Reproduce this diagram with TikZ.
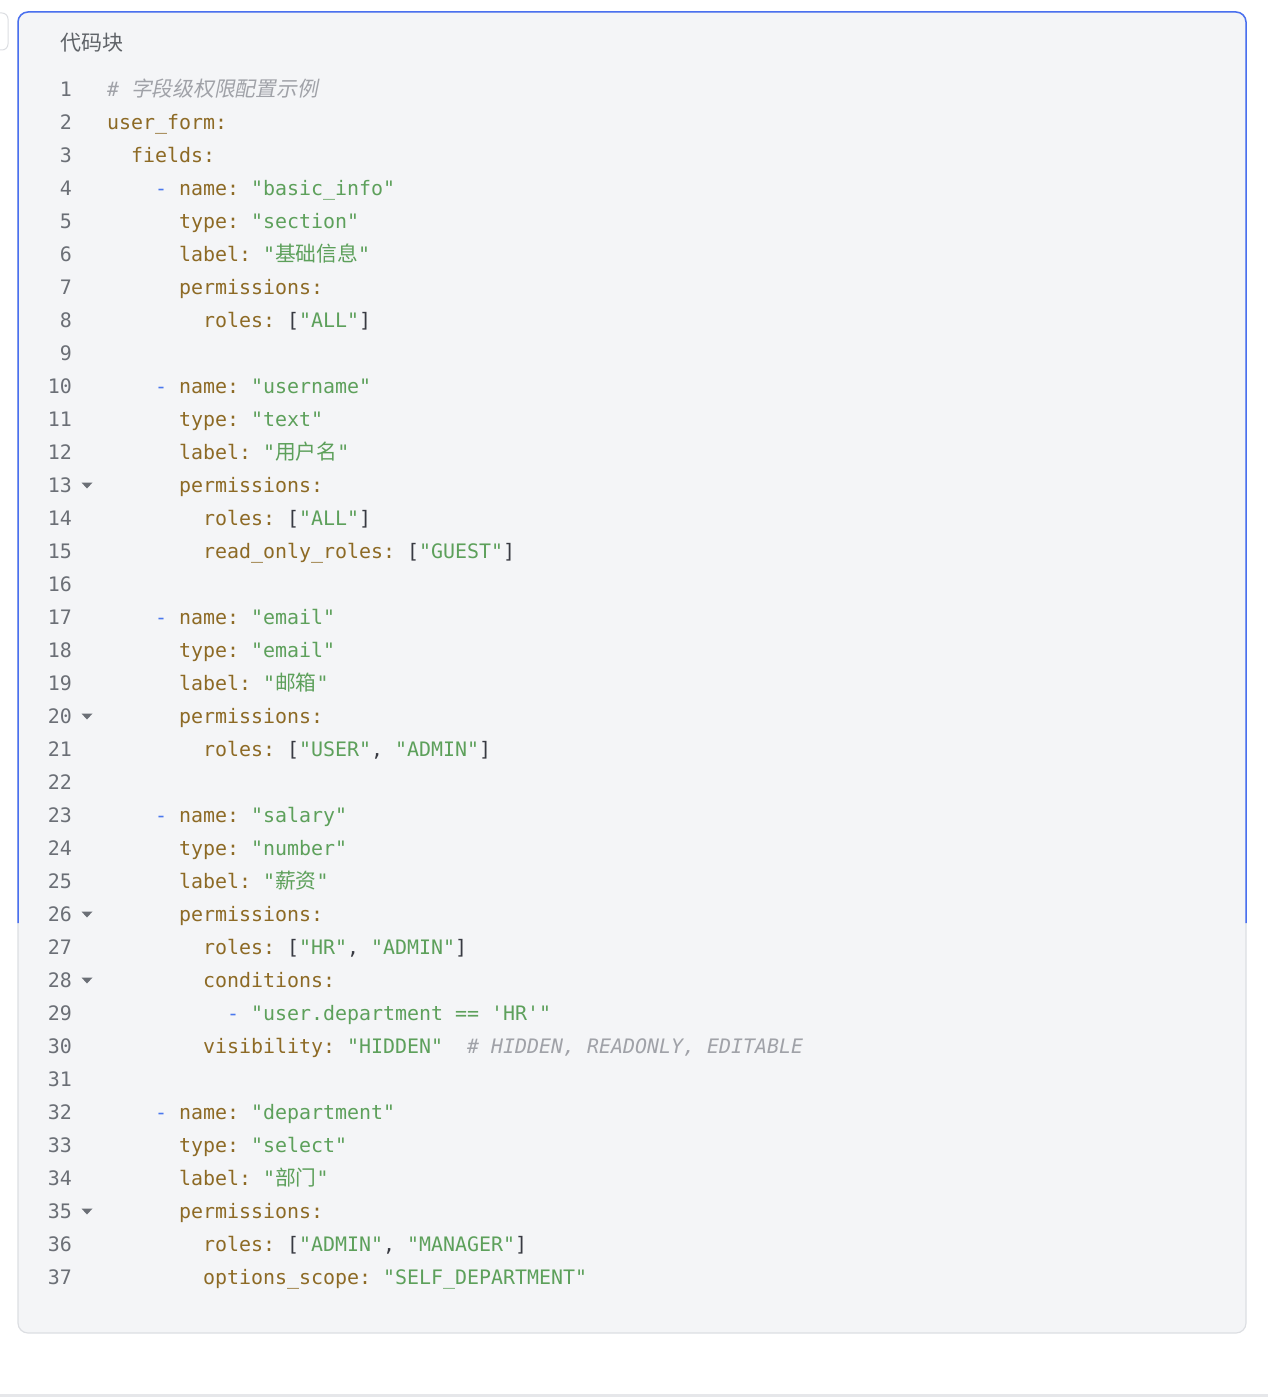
\documentclass[tikz,border=0pt]{standalone}
\usepackage{fontspec}
\setmonofont{DejaVu Sans Mono}
\newfontfamily\cjkfont[AutoFakeSlant=0.2]{Noto Sans CJK SC}
\usepackage{tikz}

\definecolor{codebg}{HTML}{F4F5F7}
\definecolor{bluebd}{HTML}{4A70F0}
\definecolor{graybd}{HTML}{DCDEE2}
\definecolor{sepgray}{HTML}{E6E7EA}
\definecolor{keybrown}{HTML}{8D6A25}
\definecolor{strgreen}{HTML}{5DA05B}
\definecolor{puncdark}{HTML}{383A42}
\definecolor{dashblue}{HTML}{4A78EE}
\definecolor{cmtgray}{HTML}{A0A2A8}
\definecolor{numgray}{HTML}{6B6F76}
\definecolor{titlegray}{HTML}{5F6368}

\newcommand{\ykey}[1]{\textcolor{keybrown}{#1}}
\newcommand{\ystr}[1]{\textcolor{strgreen}{#1}}
\newcommand{\ypun}[1]{\textcolor{puncdark}{#1}}
\newcommand{\ydash}{\textcolor{dashblue}{-}}
\newcommand{\ycmt}[1]{{\itshape\color{cmtgray}#1}}
\newcommand{\zh}[1]{{\cjkfont\fontsize{20.75}{24}\selectfont #1}}

\tikzset{
  code/.style={anchor=base west, inner sep=0pt, font=\ttfamily\fontsize{19.93}{24}\selectfont},
  lnum/.style={anchor=base east, inner sep=0pt, text=numgray, font=\ttfamily\fontsize{19.93}{24}\selectfont},
  title/.style={anchor=base west, inner sep=0pt, text=titlegray, font=\cjkfont\fontsize{21}{24}\selectfont}
}

\begin{document}
\begin{tikzpicture}[x=1pt,y=-1pt]
  \useasboundingbox (0,0) rectangle (1268,1397);
  % frame
  \draw[graybd, line width=1pt, fill=white, rounded corners=6] (-20,13) rectangle (8,50);
  \draw[graybd, line width=1.2pt, fill=codebg, rounded corners=10] (18,12) rectangle (1246,1333);
  \draw[bluebd, line width=1.5pt, rounded corners=10] (18,923) -- (18,12) -- (1246,12) -- (1246,923);
  \fill[sepgray] (0,1394) rectangle (1268,1397);
  \node[title] (ttl) at (60,51) {代码块};
  % line numbers and fold marks
  \foreach \i in {1,...,37}
    \node[lnum] (n\i) at (72,{96+33*(\i-1)}) {\i};
  \foreach \i in {13,20,26,28,35}
    \fill[numgray] (81.5,{86.5+33*(\i-1)}) -- ++(11,0) -- ++(-5.5,6) -- cycle;
  % code
  \node[code] (c1) at (107,96) {\ycmt{\# \zh{字段级权限配置示例}}};
  \node[code] (c2) at (107,129) {\ykey{user\_form:}};
  \node[code] (c3) at (131,162) {\ykey{fields:}};
  \node[code] (c4) at (155,195) {\ydash{} \ykey{name:} \ystr{"basic\_info"}};
  \node[code] (c5) at (179,228) {\ykey{type:} \ystr{"section"}};
  \node[code] (c6) at (179,261) {\ykey{label:} \ystr{"\zh{基础信息}"}};
  \node[code] (c7) at (179,294) {\ykey{permissions:}};
  \node[code] (c8) at (203,327) {\ykey{roles:} \ypun{[}\ystr{"ALL"}\ypun{]}};
  \node[code] (c10) at (155,393) {\ydash{} \ykey{name:} \ystr{"username"}};
  \node[code] (c11) at (179,426) {\ykey{type:} \ystr{"text"}};
  \node[code] (c12) at (179,459) {\ykey{label:} \ystr{"\zh{用户名}"}};
  \node[code] (c13) at (179,492) {\ykey{permissions:}};
  \node[code] (c14) at (203,525) {\ykey{roles:} \ypun{[}\ystr{"ALL"}\ypun{]}};
  \node[code] (c15) at (203,558) {\ykey{read\_only\_roles:} \ypun{[}\ystr{"GUEST"}\ypun{]}};
  \node[code] (c17) at (155,624) {\ydash{} \ykey{name:} \ystr{"email"}};
  \node[code] (c18) at (179,657) {\ykey{type:} \ystr{"email"}};
  \node[code] (c19) at (179,690) {\ykey{label:} \ystr{"\zh{邮箱}"}};
  \node[code] (c20) at (179,723) {\ykey{permissions:}};
  \node[code] (c21) at (203,756) {\ykey{roles:} \ypun{[}\ystr{"USER"}\ypun{,} \ystr{"ADMIN"}\ypun{]}};
  \node[code] (c23) at (155,822) {\ydash{} \ykey{name:} \ystr{"salary"}};
  \node[code] (c24) at (179,855) {\ykey{type:} \ystr{"number"}};
  \node[code] (c25) at (179,888) {\ykey{label:} \ystr{"\zh{薪资}"}};
  \node[code] (c26) at (179,921) {\ykey{permissions:}};
  \node[code] (c27) at (203,954) {\ykey{roles:} \ypun{[}\ystr{"HR"}\ypun{,} \ystr{"ADMIN"}\ypun{]}};
  \node[code] (c28) at (203,987) {\ykey{conditions:}};
  \node[code] (c29) at (227,1020) {\ydash{} \ystr{"user.department == 'HR'"}};
  \node[code] (c30) at (203,1053) {\ykey{visibility:} \ystr{"HIDDEN"}\ \ \ycmt{\# HIDDEN, READONLY, EDITABLE}};
  \node[code] (c32) at (155,1119) {\ydash{} \ykey{name:} \ystr{"department"}};
  \node[code] (c33) at (179,1152) {\ykey{type:} \ystr{"select"}};
  \node[code] (c34) at (179,1185) {\ykey{label:} \ystr{"\zh{部门}"}};
  \node[code] (c35) at (179,1218) {\ykey{permissions:}};
  \node[code] (c36) at (203,1251) {\ykey{roles:} \ypun{[}\ystr{"ADMIN"}\ypun{,} \ystr{"MANAGER"}\ypun{]}};
  \node[code] (c37) at (203,1284) {\ykey{options\_scope:} \ystr{"SELF\_DEPARTMENT"}};
\end{tikzpicture}
\end{document}
